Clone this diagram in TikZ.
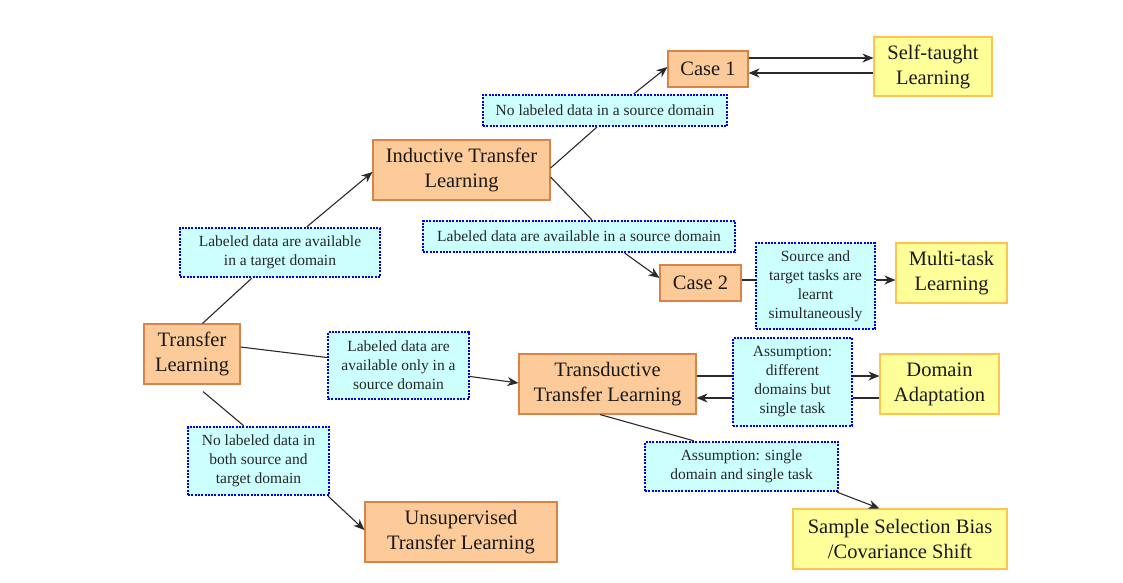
\documentclass[tikz,border=0pt]{standalone}
\usepackage{fontspec}
\setmainfont{Liberation Serif}
\usetikzlibrary{arrows.meta,calc}
\definecolor{orfill}{HTML}{FCCB99}
\definecolor{ordraw}{HTML}{D9834A}
\definecolor{yefill}{HTML}{FFFF99}
\definecolor{yedraw}{HTML}{FFC44D}
\definecolor{cyfill}{HTML}{CCFFFF}
\definecolor{bldraw}{HTML}{0000F0}
\definecolor{lncol}{HTML}{2A2A2A}
\tikzset{
  obox/.style={draw=ordraw, fill=orfill, line width=1.1pt, inner sep=0pt, align=center,
    font=\fontsize{20.5}{25}\selectfont, text=black!90},
  ybox/.style={draw=yedraw, fill=yefill, line width=1.1pt, inner sep=0pt, align=center,
    font=\fontsize{20.5}{25}\selectfont, text=black!90},
  lbox/.style={draw=bldraw, fill=cyfill, line width=2.4pt, dash pattern=on 2pt off 1.3pt,
    inner sep=0pt, align=center, font=\fontsize{15.5}{19}\selectfont, text=black!85},
  conn/.style={draw=lncol, line width=1.1pt},
  arr/.style={conn, -{Stealth[length=11pt,width=9pt,inset=3.5pt]}},
}
\begin{document}
\begin{tikzpicture}[x=1pt,y=-1pt]
\useasboundingbox (0,0) rectangle (1123,582);
% orange boxes
\node[obox, minimum width=80pt, minimum height=36pt] (c1) at (708,69) {Case 1};
\node[obox, minimum width=177pt, minimum height=60pt] (itl) at (461.5,170) {Inductive Transfer\\Learning};
\node[obox, minimum width=81pt, minimum height=36pt] (c2) at (700.5,283) {Case 2};
\node[obox, minimum width=96pt, minimum height=60pt] (tl) at (192,354) {Transfer\\Learning};
\node[obox, minimum width=177pt, minimum height=60pt] (ttl) at (607.5,384) {Transductive\\Transfer Learning};
\node[obox, minimum width=192pt, minimum height=60pt] (ut) at (461,532) {Unsupervised\\Transfer Learning};
% yellow boxes
\node[ybox, minimum width=118pt, minimum height=59pt] (st) at (933,66.5) {Self-taught\\Learning};
\node[ybox, minimum width=111pt, minimum height=60pt] (mt) at (951.5,273) {Multi-task\\Learning};
\node[ybox, minimum width=119pt, minimum height=60pt] (da) at (939.5,384) {Domain\\Adaptation};
\node[ybox, minimum width=214pt, minimum height=60pt] (sb) at (900,539) {Sample Selection Bias\\/Covariance Shift};
% label boxes
\node[lbox, minimum width=244pt, minimum height=31pt] (nl) at (605,110.5) {No labeled data in a source domain};
\node[lbox, minimum width=312pt, minimum height=31pt] (la) at (579,236.5) {Labeled data are available in a source domain};
\node[lbox, minimum width=119pt, minimum height=86pt] (sa) at (815.5,286) {Source and\\target tasks are\\learnt\\simultaneously};
\node[lbox, minimum width=200pt, minimum height=49pt] (lt) at (280,252.5) {Labeled data are available\\in a target domain};
\node[lbox, minimum width=141pt, minimum height=67pt] (ls) at (398.5,365.5) {Labeled data are\\available only in a\\source domain};
\node[lbox, minimum width=119pt, minimum height=88pt] (as) at (792.5,382) {Assumption:\\different\\domains but\\single task};
\node[lbox, minimum width=141pt, minimum height=68pt] (nb) at (258.5,461) {No labeled data in\\both source and\\target domain};
\node[lbox, minimum width=193pt, minimum height=49pt] (ss) at (741.5,466.5) {Assumption: single\\domain and single task};
% helper coordinates
\coordinate (c1a) at ($(c1.east)+(0,-11)$);
\coordinate (c1b) at ($(c1.east)+(0,4)$);
\coordinate (c2a) at ($(c2.east)+(0,-3)$);
\coordinate (ttla) at ($(ttl.east)+(0,-8)$);
\coordinate (ttlb) at ($(ttl.east)+(0,14)$);
% connectors
\draw[conn] ($(tl.north west)+(59,0)$) -- ($(lt.south west)+(73,0)$);
\draw[arr] ($(lt.north west)+(128,0)$) -- ($(itl.west)+(0,2)$);
\draw[conn] ($(itl.east)+(0,-2)$) -- ($(nl.south west)+(115,0)$);
\draw[arr] ($(nl.north west)+(152,0)$) -- ($(c1.west)+(0,-2)$);
\draw[conn] ($(itl.east)+(0,7)$) -- ($(la.north west)+(170,0)$);
\draw[arr] ($(la.south west)+(203,0)$) -- ($(c2.west)+(0,-5)$);
\draw[arr] (c1a) -- (c1a -| st.west);
\draw[arr] (c1b -| st.west) -- (c1b);
\draw[conn] (c2a) -- (c2a -| sa.west);
\draw[arr] (c2a -| sa.east) -- (c2a -| mt.west);
\draw[conn] ($(tl.east)+(0,-7)$) -- ($(ls.west)+(0,-8)$);
\draw[arr] ($(ls.east)+(0,11)$) -- ($(ttl.west)+(0,-1)$);
\draw[conn] (ttla) -- (ttla -| as.west);
\draw[arr] (ttla -| as.east) -- (ttla -| da.west);
\draw[conn] (ttlb -| da.west) -- (ttlb -| as.east);
\draw[arr] (ttlb -| as.west) -- (ttlb);
\draw[conn] ($(ttl.south)+(-7.5,0)$) -- ($(ss.north west)+(50,0)$);
\draw[arr] ($(ss.south east)+(-2,0)$) -- ($(sb.north west)+(87,0)$);
\draw[conn] ($(tl.south)+(11,7)$) -- ($(nb.north west)+(57,0)$);
\draw[arr] ($(nb.south east)+(-2,0)$) -- ($(ut.west)+(0,-2)$);
\end{tikzpicture}
\end{document}
